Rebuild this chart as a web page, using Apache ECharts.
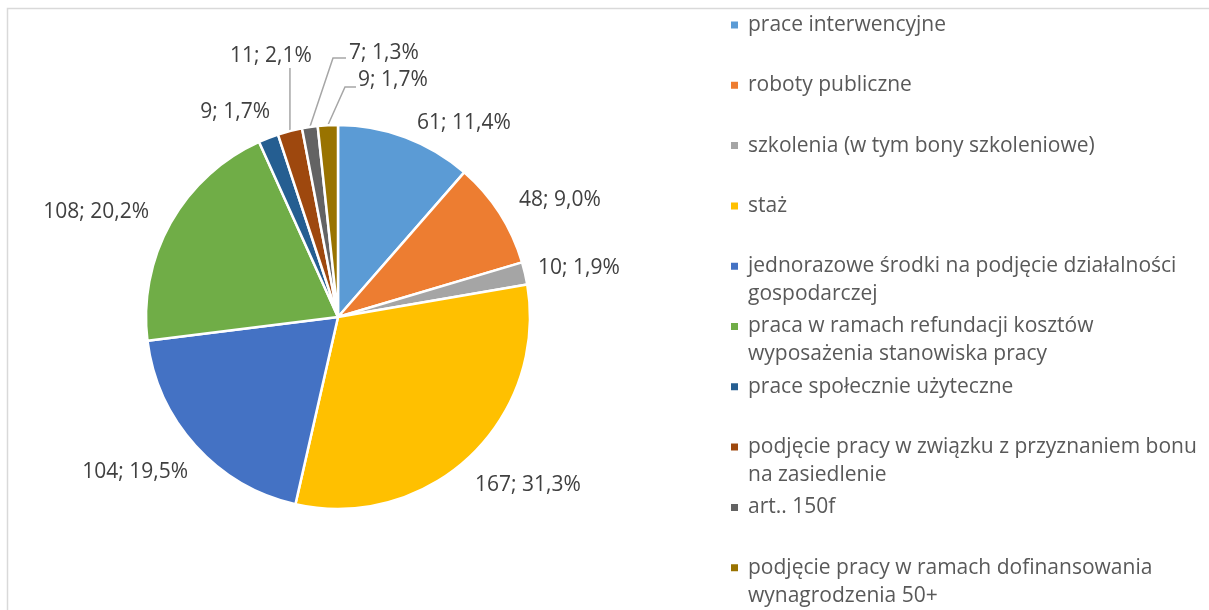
<!DOCTYPE html>
<html>
<head>
<meta charset="utf-8">
<script src="https://cdn.jsdelivr.net/npm/echarts@6/dist/echarts.min.js"></script>
<style>
  html, body { margin: 0; padding: 0; background: #fff; }
  #chart { width: 1209px; height: 610px; }
</style>
</head>
<body>
<div id="chart"></div>
<script>
// categories and values
const categories = [
  'prace interwencyjne',
  'roboty publiczne',
  'szkolenia (w tym bony szkoleniowe)',
  'staż',
  'jednorazowe środki na podjęcie działalności\ngospodarczej',
  'praca w ramach refundacji kosztów\nwyposażenia stanowiska pracy',
  'prace społecznie użyteczne',
  'podjęcie pracy w związku z przyznaniem bonu\nna zasiedlenie',
  'art.. 150f',
  'podjęcie pracy w ramach dofinansowania\nwynagrodzenia 50+'
]
const values = [61, 48, 10, 167, 104, 108, 9, 11, 7, 9]
const colors = ['#5B9BD5', '#ED7D31', '#A5A5A5', '#FFC000', '#4472C4', '#70AD47', '#255E91', '#9E480E', '#636363', '#997300']

const total = values.reduce((a, b) => a + b, 0)
const CX = 338, CY = 317, R = 192
const FONT = "'Open Sans', 'DejaVu Sans', sans-serif"

// where Excel put the data labels: [x, y, align]
const labelSpots = [
  [417, 123, 'left'], [519, 200, 'left'], [538, 268, 'left'], [475, 485, 'left'],
  [188, 472, 'right'], [149, 212, 'right'], [270, 112, 'right'],
  [271, 56, 'center'], [349, 53, 'left'], [358, 80, 'left']
]

// point on the pie edge in the middle of slice i
function edgePoint(i) {
  let before = 0
  for (let k = 0; k < i; k++) before += values[k]
  const a = (before + values[i] / 2) / total * Math.PI * 2
  return [CX + R * Math.sin(a), CY - R * Math.cos(a)]
}

function leader(i) {
  const p = edgePoint(i)
  if (i === 7) return [p, [p[0], 68]]
  if (i === 8) return [p, [333, 58], [346, 58]]
  if (i === 9) return [p, [345, 87], [356, 87]]
  return null
}

const chart = echarts.init(document.getElementById('chart'))

// one legend per entry so the rows keep Excel's even spacing
const legends = categories.map((name, i) => {
  const twoLines = name.indexOf('\n') >= 0
  const c = 25 + 60.3 * i
  return {
    show: true,
    selectedMode: false,
    data: [name],
    left: 729,
    top: twoLines ? c - 42 : c - 14,
    padding: 0,
    itemWidth: 9,
    itemHeight: 9,
    icon: 'rect',
    // empty first line keeps the square next to the first text line
    formatter: n => (twoLines ? '\n' + n : n),
    textStyle: {
      color: '#595959',
      fontSize: 21,
      fontFamily: FONT,
      lineHeight: 28,
      padding: [0, 0, 0, 4]
    }
  }
})

chart.setOption({
  animation: false,
  color: colors,
  graphic: [{
    type: 'rect',
    shape: { x: 7.5, y: 8.5, width: 1400, height: 800 },
    style: { fill: 'none', stroke: '#d9d9d9', lineWidth: 1.5 },
    silent: true
  }],
  legend: legends,
  series: [{
    type: 'pie',
    center: [CX, CY],
    radius: R,
    startAngle: 90,
    clockwise: true,
    avoidLabelOverlap: false,
    itemStyle: { borderColor: '#fff', borderWidth: 2.5 },
    label: {
      show: true,
      position: 'outside',
      color: '#404040',
      fontSize: 21,
      fontFamily: FONT,
      formatter: p => p.value + '; ' + (p.value / total * 100).toFixed(1).replace('.', ',') + '%'
    },
    labelLine: { show: false, lineStyle: { color: '#a6a6a6', width: 1.5 } },
    labelLayout: params => {
      const s = labelSpots[params.dataIndex]
      const out = { x: s[0], y: s[1], align: s[2], verticalAlign: 'middle' }
      const pts = leader(params.dataIndex)
      if (pts) out.labelLinePoints = pts
      return out
    },
    data: categories.map((name, i) => ({
      name: name,
      value: values[i],
      labelLine: { show: i >= 7 }
    }))
  }]
})
</script>
</body>
</html>
